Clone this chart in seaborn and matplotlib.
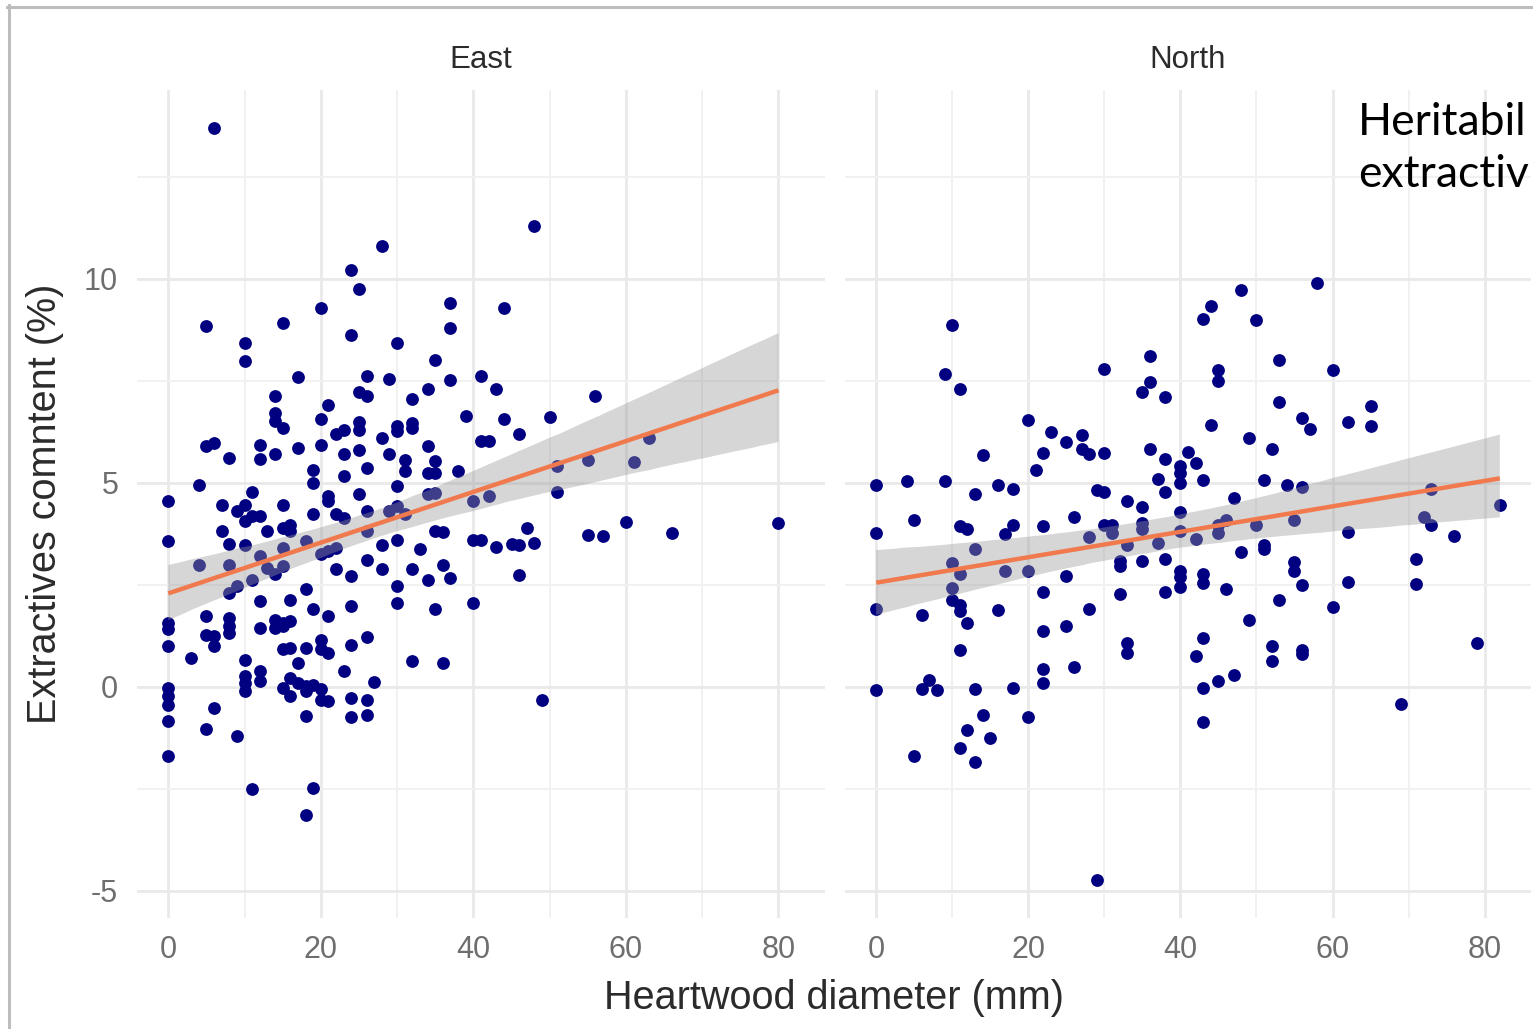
import numpy as np
import pandas as pd
import matplotlib
matplotlib.use("Agg")
import matplotlib.pyplot as plt
import seaborn as sns
from matplotlib.lines import Line2D
from matplotlib.collections import PolyCollection
from matplotlib.ticker import MultipleLocator

# ---------------- data ----------------
panels = ["East", "North"]

east_x = [6, 28, 24, 25, 20, 37, 37, 5, 15, 10, 10, 24, 30, 35, 17, 26, 29, 37, 34, 32,
          25, 26, 14, 14, 14, 15, 21, 20, 39, 25, 25, 23, 22, 30, 30, 32, 32, 28, 5, 6,
          8, 12, 12, 14, 17, 20, 23, 25, 29, 34, 31, 31, 35, 34, 35, 38, 26, 19, 23,
          48, 44, 41, 43, 44, 50, 56, 41, 42, 46, 51, 55, 61, 63,
          4, 0, 0, 4, 7, 7, 8, 8, 8, 9, 9, 10, 10, 11, 11, 12, 11, 10, 12, 13, 13, 14,
          15, 15, 16, 16, 15, 15, 19, 19, 18, 20, 21, 22, 21, 21, 22, 23, 22, 24, 25, 26,
          26, 26, 28, 28, 30, 30, 30, 31, 29, 33, 32, 34, 34, 35, 35, 36, 36, 37, 35, 30,
          30, 24, 21, 19, 18, 16, 12, 12, 14, 15, 16, 14, 15, 8, 8, 8, 5, 5, 6, 6, 0, 0,
          0, 3, 10, 10, 10, 10, 12, 12, 15, 16, 18, 20, 20, 21, 17, 23, 24, 26, 27, 32,
          36, 15, 16, 16, 17, 18, 18, 19, 20, 20, 21, 24, 26, 26, 24, 18, 0, 0, 0, 0, 6,
          5, 9, 0, 11, 19, 18,
          51, 40, 42, 40, 41, 43, 45, 46, 47, 48, 46, 40, 55, 57, 60, 66, 80, 49]
east_y = [13.7, 10.8, 10.2, 9.75, 9.28, 9.4, 8.8, 8.83, 8.9, 8.42, 7.97, 8.61, 8.42, 8.01,
          7.6, 7.62, 7.54, 7.51, 7.3, 7.05, 7.23, 7.13, 7.13, 6.71, 6.5, 6.34, 6.91, 6.56,
          6.64, 6.48, 6.28, 6.3, 6.19, 6.38, 6.26, 6.46, 6.34, 6.1, 5.89, 5.97, 5.6, 5.93,
          5.58, 5.71, 5.85, 5.91, 5.71, 5.79, 5.69, 5.89, 5.56, 5.28, 5.52, 5.24, 5.24,
          5.28, 5.36, 5.3, 5.17,
          11.3, 9.28, 7.62, 7.3, 6.56, 6.61, 7.11, 6.01, 6.01, 6.19, 5.4, 5.55, 5.51, 6.1,
          4.95, 4.54, 3.56, 2.99, 4.46, 3.82, 3.5, 2.99, 2.3, 2.46, 4.3, 4.46, 3.48, 4.76,
          4.17, 4.17, 2.62, 4.05, 3.19, 3.81, 2.91, 2.75, 4.46, 3.89, 3.97, 3.81, 3.4, 2.95,
          4.99, 4.22, 3.56, 3.24, 3.32, 3.4, 4.66, 4.54, 4.22, 4.13, 2.87, 2.7, 4.73, 4.3,
          3.81, 3.1, 3.48, 2.87, 4.91, 4.42, 3.6, 4.22, 4.3, 3.36, 2.87, 2.62, 4.71, 4.75,
          3.81, 3.78, 2.99, 2.66, 1.9, 2.46, 2.05, 1.97, 1.72, 1.89, 2.38, 2.13, 2.09, 1.44,
          1.64, 1.56, 1.6, 1.44, 1.48, 1.68, 1.48, 1.32, 1.72, 1.27, 1.23, 0.99, 1.56, 1.4,
          0.99, 0.7, 0.66, 0.25, 0.09, -0.11, 0.38, 0.13, 0.91, 0.95, 0.95, 1.15, 0.91, 0.83,
          0.58, 0.38, 1.03, 1.22, 0.11, 0.62, 0.58, -0.03, 0.21, -0.24, 0.09, 0.01, -0.11,
          0.05, -0.07, -0.32, -0.36, -0.28, -0.32, -0.69, -0.74, -0.71, -0.03, -0.24, -0.44,
          -0.85, -0.52, -1.05, -1.22, -1.71, -2.52, -2.48, -3.14,
          4.76, 4.54, 4.68, 3.6, 3.6, 3.42, 3.5, 3.48, 3.89, 3.52, 2.73, 2.05, 3.71, 3.68,
          4.04, 3.77, 4.01, -0.32]

north_x = [10, 9, 11, 30, 36, 36, 35, 38, 20, 23, 25, 27, 27, 28, 30, 22, 21, 14, 0, 4,
           9, 13, 16, 18, 29, 30, 33, 35, 36, 38, 41, 40, 40, 40, 37, 38,
           58, 48, 44, 43, 50, 53, 60, 45, 45, 53, 56, 57, 62, 65, 65, 44, 49, 52, 42, 43,
           51, 54, 56, 47, 73, 82,
           0, 5, 11, 12, 13, 10, 11, 10, 10, 11, 11, 12, 0, 6, 16, 17, 18, 22, 26, 17, 20,
           25, 22, 28, 30, 31, 31, 33, 35, 35, 37, 32, 32, 35, 38, 40, 40, 40, 40, 40, 38,
           32, 28, 22, 25, 11, 33, 33, 22, 22, 26, 0, 6, 7, 8, 13, 18, 20, 14, 12, 15, 11,
           5, 13, 29,
           42, 45, 45, 46, 50, 55, 62, 72, 73, 76, 71, 71, 48, 51, 51, 55, 55, 56, 62, 43,
           43, 46, 53, 60, 49, 43, 42, 52, 52, 56, 56, 79, 43, 45, 47, 43, 69]
north_y = [8.87, 7.66, 7.3, 7.79, 8.11, 7.46, 7.22, 7.1, 6.54, 6.24, 5.99, 6.16, 5.83,
           5.69, 5.73, 5.73, 5.32, 5.67, 4.93, 5.05, 5.05, 4.72, 4.93, 4.85, 4.83, 4.77,
           4.55, 4.4, 5.83, 5.59, 5.74, 5.4, 5.24, 4.99, 5.09, 4.76,
           9.89, 9.71, 9.32, 9.0, 8.98, 8.0, 7.77, 7.75, 7.48, 6.97, 6.59, 6.32, 6.49, 6.87,
           6.38, 6.42, 6.1, 5.83, 5.47, 5.06, 5.07, 4.93, 4.89, 4.61, 4.85, 4.44,
           3.77, 4.08, 3.93, 3.87, 3.36, 3.03, 2.75, 2.42, 2.13, 1.99, 1.85, 1.56, 1.91,
           1.76, 1.87, 3.73, 3.97, 3.93, 4.16, 2.83, 2.83, 2.72, 2.31, 3.67, 3.97, 3.95,
           3.77, 3.48, 4.01, 3.85, 3.52, 3.07, 2.95, 3.09, 3.13, 4.27, 3.81, 2.83, 2.69,
           2.44, 2.31, 2.27, 1.91, 1.36, 1.48, 0.89, 1.07, 0.83, 0.42, 0.09, 0.47, -0.09,
           -0.05, 0.15, -0.09, -0.05, -0.03, -0.75, -0.69, -1.07, -1.26, -1.5, -1.71,
           -1.85, -4.75,
           3.62, 3.97, 3.77, 4.09, 3.97, 4.09, 3.79, 4.16, 3.95, 3.7, 3.13, 2.52, 3.3, 3.48,
           3.36, 3.05, 2.83, 2.5, 2.56, 2.75, 2.54, 2.39, 2.12, 1.95, 1.64, 1.19, 0.76,
           0.99, 0.62, 0.89, 0.81, 1.07, -0.03, 0.13, 0.29, -0.87, -0.42]

x_ticks = [0, 20, 40, 60, 80]
y_ticks = [-5, 0, 5, 10]
x_label = "Heartwood diameter (mm)"
y_label = "Extractives comntent (%)"
# overlay text of the slide, as far as it is visible in the screenshot
overlay_lines = ["Heritabil", "extractiv"]

df = pd.concat([
    pd.DataFrame({"diam": east_x, "extr": east_y, "site": "East"}),
    pd.DataFrame({"diam": north_x, "extr": north_y, "site": "North"}),
], ignore_index=True)

# ---------------- styling ----------------
plt.rcParams["font.family"] = ["Liberation Sans", "DejaVu Sans"]
plt.rcParams["axes.unicode_minus"] = False
W, H = 1533, 1029
fig = plt.figure(figsize=(W / 100, H / 100), dpi=100)
fig.patch.set_facecolor("white")


def box(l, t, r, b):
    return [l / W, 1 - b / H, (r - l) / W, (b - t) / H]


axes = [fig.add_axes(box(137, 90, 825, 918)), fig.add_axes(box(845, 90, 1531, 918))]

# shared limits with ggplot-like 5% expansion
xr = df["diam"].max() - df["diam"].min()
yr = df["extr"].max() - df["extr"].min()
xlim = (df["diam"].min() - 0.05 * xr, df["diam"].max() + 0.05 * xr)
ylim = (df["extr"].min() - 0.05 * yr, df["extr"].max() + 0.05 * yr)

navy = "#000080"
coral = "#F07A4E"
tick_col = "#6E6E6E"
text_col = "#2B2B2B"

for i, (ax, site) in enumerate(zip(axes, panels)):
    sub = df[df["site"] == site]
    sns.regplot(data=sub, x="diam", y="extr", ax=ax, ci=95, n_boot=2000, seed=3,
                scatter_kws=dict(s=85, color=navy, linewidths=0, alpha=1),
                line_kws=dict(color=coral, lw=3.2, solid_capstyle="butt"))
    for coll in ax.collections:
        if isinstance(coll, PolyCollection):
            coll.set_facecolor("#999999")
            coll.set_edgecolor("none")
            coll.set_alpha(0.4)
    ax.set_xlim(*xlim)
    ax.set_ylim(*ylim)
    ax.set_xticks(x_ticks)
    ax.set_yticks(y_ticks)
    ax.xaxis.set_minor_locator(MultipleLocator(10))
    ax.yaxis.set_minor_locator(MultipleLocator(2.5))
    ax.set_axisbelow(True)
    ax.grid(which="major", color="#E9E9E9", lw=2.0)
    ax.grid(which="minor", color="#F1F1F1", lw=1.4)
    for s in ax.spines.values():
        s.set_visible(False)
    ax.tick_params(which="both", length=0)
    ax.tick_params(axis="x", labelsize=22, labelcolor=tick_col, pad=12)
    ax.tick_params(axis="y", labelsize=22, labelcolor=tick_col, pad=13.5,
                   labelleft=(i == 0))
    ax.set_xlabel("")
    ax.set_ylabel("")
    ax.text(0.5, 1 + 30 / 828, site, transform=ax.transAxes, ha="center", va="center",
            fontsize=22.5, color=text_col)

fig.text(834 / W, 1 - 998 / H, x_label, ha="center", va="center", fontsize=28.5,
         color=text_col)
fig.text(45 / W, 1 - 504 / H, y_label, ha="center", va="center", rotation=90,
         fontsize=28.5, color=text_col)

# slide overlay text (only the part visible in the screenshot)
fig.text(1358 / W, 1 - 135 / H, overlay_lines[0], ha="left", va="baseline",
         fontsize=32, color="black", family=["Lato", "DejaVu Sans"])
fig.text(1358 / W, 1 - 187 / H, overlay_lines[1], ha="left", va="baseline",
         fontsize=32, color="black", family=["Lato", "DejaVu Sans"])

# grey frame of the screenshot (top and left edges)
fig.add_artist(Line2D([7 / W, 1], [1 - 6.5 / H, 1 - 6.5 / H], color="#BDBDBD", lw=2.2,
                      transform=fig.transFigure))
fig.add_artist(Line2D([8.5 / W, 8.5 / W], [0, 1 - 5 / H], color="#BDBDBD", lw=2.2,
                      transform=fig.transFigure))

fig.savefig("out.png", dpi=100, facecolor="white")
